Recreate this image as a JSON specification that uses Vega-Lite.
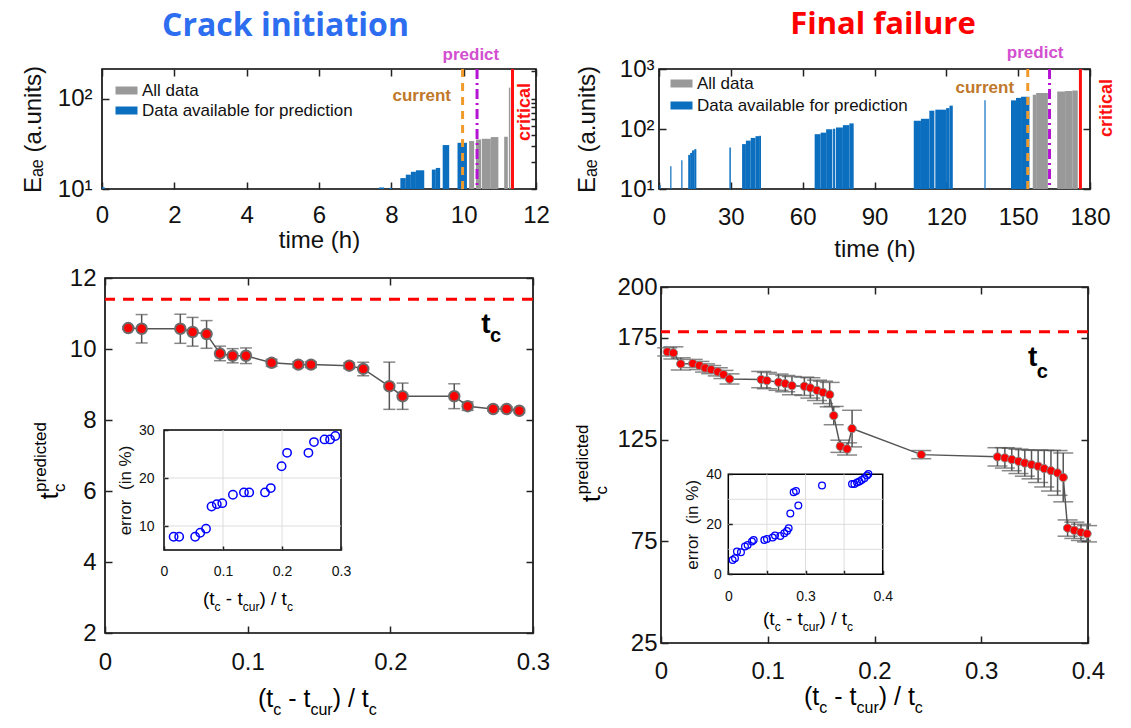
{
"$schema": "https://vega.github.io/schema/vega-lite/v6.json",
"padding": {"left": 20, "top": 9, "right": 5, "bottom": 5},
"autosize": {"type": "pad"},
"background": "white",
"config": {
  "font": "Liberation Sans",
  "view": {"stroke": "#000000", "strokeWidth": 1.6},
  "axis": {"domain": false, "grid": false, "labelFont": "Liberation Sans", "labelFontSize": 24, "labelColor": "#111111", "tickColor": "#222222", "tickSize": -7, "tickWidth": 1.5, "labelFlush": false, "labelOverlap": false, "titleFont": "Liberation Sans", "titleFontSize": 24, "titleFontWeight": "normal", "titleColor": "#111111", "format": "~r"},
  "legend": {"labelFont": "Liberation Sans", "labelFontSize": 17, "labelColor": "#111111", "labelLimit": 400},
  "text": {"font": "Liberation Sans", "color": "#000000"}
},
"datasets": {
  "tl": [
    {"t0": 0, "t1": 0.08, "v": 10.4, "s": "Data available for prediction"},
    {"t0": 7.66, "t1": 7.8, "v": 10.4, "s": "Data available for prediction"},
    {"t0": 7.95, "t1": 8.02, "v": 10.3, "s": "Data available for prediction"},
    {"t0": 8.25, "t1": 8.4, "v": 13.2, "s": "Data available for prediction"},
    {"t0": 8.4, "t1": 8.54, "v": 14.4, "s": "Data available for prediction"},
    {"t0": 8.54, "t1": 8.68, "v": 15.5, "s": "Data available for prediction"},
    {"t0": 8.68, "t1": 8.91, "v": 16.1, "s": "Data available for prediction"},
    {"t0": 9.12, "t1": 9.23, "v": 16.4, "s": "Data available for prediction"},
    {"t0": 9.23, "t1": 9.35, "v": 17.1, "s": "Data available for prediction"},
    {"t0": 9.42, "t1": 9.6, "v": 30.6, "s": "Data available for prediction"},
    {"t0": 9.83, "t1": 10.09, "v": 32.4, "s": "Data available for prediction"},
    {"t0": 10.15, "t1": 10.29, "v": 33.9, "s": "All data"},
    {"t0": 10.34, "t1": 10.48, "v": 35.3, "s": "All data"},
    {"t0": 10.5, "t1": 10.75, "v": 35.9, "s": "All data"},
    {"t0": 10.75, "t1": 10.96, "v": 37.5, "s": "All data"},
    {"t0": 11.12, "t1": 11.22, "v": 37.8, "s": "All data"},
    {"t0": 11.25, "t1": 11.29, "v": 132, "s": "All data"}
  ],
  "tr": [
    {"t0": 0.2, "t1": 0.7, "v": 11.7, "s": "Data available for prediction"},
    {"t0": 4.7, "t1": 5.2, "v": 24, "s": "Data available for prediction"},
    {"t0": 9.3, "t1": 9.8, "v": 30, "s": "Data available for prediction"},
    {"t0": 12.2, "t1": 13.0, "v": 37, "s": "Data available for prediction"},
    {"t0": 13.0, "t1": 13.8, "v": 40, "s": "Data available for prediction"},
    {"t0": 13.8, "t1": 14.7, "v": 44, "s": "Data available for prediction"},
    {"t0": 14.7, "t1": 15.6, "v": 46, "s": "Data available for prediction"},
    {"t0": 29.4, "t1": 30.0, "v": 49, "s": "Data available for prediction"},
    {"t0": 34.7, "t1": 36.3, "v": 56, "s": "Data available for prediction"},
    {"t0": 36.3, "t1": 38.3, "v": 64, "s": "Data available for prediction"},
    {"t0": 38.3, "t1": 40.3, "v": 71, "s": "Data available for prediction"},
    {"t0": 40.3, "t1": 41.8, "v": 76, "s": "Data available for prediction"},
    {"t0": 41.8, "t1": 42.6, "v": 77, "s": "Data available for prediction"},
    {"t0": 65.0, "t1": 67.5, "v": 82, "s": "Data available for prediction"},
    {"t0": 67.5, "t1": 69.8, "v": 87, "s": "Data available for prediction"},
    {"t0": 69.8, "t1": 72.4, "v": 99, "s": "Data available for prediction"},
    {"t0": 72.7, "t1": 73.6, "v": 101, "s": "Data available for prediction"},
    {"t0": 73.9, "t1": 76.8, "v": 106, "s": "Data available for prediction"},
    {"t0": 76.8, "t1": 79.5, "v": 116, "s": "Data available for prediction"},
    {"t0": 79.5, "t1": 81.3, "v": 124, "s": "Data available for prediction"},
    {"t0": 106.4, "t1": 109.4, "v": 137, "s": "Data available for prediction"},
    {"t0": 109.4, "t1": 112.9, "v": 148, "s": "Data available for prediction"},
    {"t0": 112.9, "t1": 115.0, "v": 202, "s": "Data available for prediction"},
    {"t0": 115.4, "t1": 119.9, "v": 210, "s": "Data available for prediction"},
    {"t0": 119.9, "t1": 121.3, "v": 223, "s": "Data available for prediction"},
    {"t0": 121.3, "t1": 122.7, "v": 245, "s": "Data available for prediction"},
    {"t0": 135.9, "t1": 136.4, "v": 300, "s": "Data available for prediction"},
    {"t0": 147.0, "t1": 149.1, "v": 300, "s": "Data available for prediction"},
    {"t0": 149.1, "t1": 151.2, "v": 330, "s": "Data available for prediction"},
    {"t0": 151.2, "t1": 154.7, "v": 345, "s": "Data available for prediction"},
    {"t0": 156.1, "t1": 157.5, "v": 372, "s": "All data"},
    {"t0": 157.5, "t1": 162.4, "v": 398, "s": "All data"},
    {"t0": 166.3, "t1": 169.6, "v": 420, "s": "All data"},
    {"t0": 169.6, "t1": 172.6, "v": 430, "s": "All data"},
    {"t0": 172.6, "t1": 174.9, "v": 438, "s": "All data"}
  ],
  "bl": [
    {"x": 0.0163, "p": 10.59, "lo": 10.55, "hi": 10.63},
    {"x": 0.0257, "p": 10.57, "lo": 10.17, "hi": 10.97},
    {"x": 0.0528, "p": 10.57, "lo": 10.16, "hi": 10.98},
    {"x": 0.0614, "p": 10.48, "lo": 10.08, "hi": 10.89},
    {"x": 0.0712, "p": 10.42, "lo": 10.02, "hi": 10.8},
    {"x": 0.0806, "p": 9.87, "lo": 9.67, "hi": 10.08},
    {"x": 0.0895, "p": 9.81, "lo": 9.61, "hi": 10.01},
    {"x": 0.0988, "p": 9.81, "lo": 9.59, "hi": 10.03},
    {"x": 0.1168, "p": 9.61, "lo": 9.51, "hi": 9.71},
    {"x": 0.1355, "p": 9.56, "lo": 9.48, "hi": 9.64},
    {"x": 0.1444, "p": 9.56, "lo": 9.48, "hi": 9.64},
    {"x": 0.1712, "p": 9.53, "lo": 9.45, "hi": 9.61},
    {"x": 0.181, "p": 9.44, "lo": 9.25, "hi": 9.63},
    {"x": 0.1993, "p": 8.95, "lo": 8.3, "hi": 9.63},
    {"x": 0.2086, "p": 8.67, "lo": 8.3, "hi": 9.04},
    {"x": 0.2448, "p": 8.67, "lo": 8.32, "hi": 9.02},
    {"x": 0.2542, "p": 8.39, "lo": 8.27, "hi": 8.51},
    {"x": 0.2721, "p": 8.31, "lo": 8.25, "hi": 8.37},
    {"x": 0.2815, "p": 8.31, "lo": 8.25, "hi": 8.37},
    {"x": 0.2904, "p": 8.26, "lo": 8.2, "hi": 8.32}
  ],
  "bli": [
    {"x": 0.0163, "e": 7.76}, {"x": 0.0257, "e": 7.76}, {"x": 0.0528, "e": 7.76}, {"x": 0.0614, "e": 8.6},
    {"x": 0.0712, "e": 9.44}, {"x": 0.0806, "e": 14.06}, {"x": 0.0895, "e": 14.55}, {"x": 0.0988, "e": 14.76},
    {"x": 0.1168, "e": 16.5}, {"x": 0.1355, "e": 17.0}, {"x": 0.1444, "e": 17.0}, {"x": 0.1712, "e": 17.0},
    {"x": 0.181, "e": 17.9}, {"x": 0.1993, "e": 22.45}, {"x": 0.2086, "e": 25.24}, {"x": 0.2448, "e": 25.24},
    {"x": 0.2542, "e": 27.48}, {"x": 0.2721, "e": 28.04}, {"x": 0.2815, "e": 28.04}, {"x": 0.2904, "e": 28.74}
  ],
  "br": [
    {"x": 0.0059, "p": 168.1, "lo": 166.1, "hi": 170.1},
    {"x": 0.0116, "p": 167.6, "lo": 164.6, "hi": 170.6},
    {"x": 0.0185, "p": 162.2, "lo": 159.2, "hi": 165.2},
    {"x": 0.0297, "p": 162.4, "lo": 160.4, "hi": 164.4},
    {"x": 0.036, "p": 161.4, "lo": 159.4, "hi": 163.4},
    {"x": 0.0413, "p": 160.2, "lo": 158.2, "hi": 162.2},
    {"x": 0.047, "p": 159.4, "lo": 157.4, "hi": 161.4},
    {"x": 0.0532, "p": 158.3, "lo": 156.3, "hi": 160.3},
    {"x": 0.0585, "p": 157.0, "lo": 155.0, "hi": 159.0},
    {"x": 0.0642, "p": 154.8, "lo": 152.3, "hi": 157.3},
    {"x": 0.0939, "p": 154.5, "lo": 150.5, "hi": 158.5},
    {"x": 0.0992, "p": 154.0, "lo": 150.0, "hi": 158.0},
    {"x": 0.1101, "p": 153.2, "lo": 149.2, "hi": 157.2},
    {"x": 0.1164, "p": 152.5, "lo": 148.5, "hi": 156.5},
    {"x": 0.1227, "p": 151.5, "lo": 147.0, "hi": 156.0},
    {"x": 0.1343, "p": 151.2, "lo": 146.7, "hi": 155.7},
    {"x": 0.1399, "p": 150.4, "lo": 145.4, "hi": 155.4},
    {"x": 0.1462, "p": 149.2, "lo": 144.2, "hi": 154.2},
    {"x": 0.1518, "p": 148.2, "lo": 142.7, "hi": 153.7},
    {"x": 0.158, "p": 147.1, "lo": 141.1, "hi": 153.1},
    {"x": 0.1618, "p": 136.8, "lo": 132.3, "hi": 141.3},
    {"x": 0.168, "p": 121.7, "lo": 118.7, "hi": 124.7},
    {"x": 0.1743, "p": 120.4, "lo": 117.4, "hi": 123.4},
    {"x": 0.179, "p": 130.4, "lo": 121.4, "hi": 139.4},
    {"x": 0.2438, "p": 117.6, "lo": 115.6, "hi": 119.6},
    {"x": 0.3152, "p": 116.5, "lo": 112.0, "hi": 121.0},
    {"x": 0.3221, "p": 116.0, "lo": 111.0, "hi": 121.0},
    {"x": 0.3286, "p": 115.2, "lo": 109.7, "hi": 120.7},
    {"x": 0.3349, "p": 114.3, "lo": 108.3, "hi": 120.3},
    {"x": 0.3408, "p": 113.5, "lo": 107.0, "hi": 120.0},
    {"x": 0.3471, "p": 112.7, "lo": 105.7, "hi": 119.7},
    {"x": 0.3533, "p": 111.9, "lo": 103.9, "hi": 119.9},
    {"x": 0.359, "p": 110.7, "lo": 101.7, "hi": 119.7},
    {"x": 0.3653, "p": 109.7, "lo": 99.7, "hi": 119.7},
    {"x": 0.3715, "p": 108.6, "lo": 97.6, "hi": 119.6},
    {"x": 0.3768, "p": 106.4, "lo": 94.4, "hi": 118.4},
    {"x": 0.3809, "p": 81.5, "lo": 77.5, "hi": 85.5},
    {"x": 0.3872, "p": 80.4, "lo": 76.4, "hi": 84.4},
    {"x": 0.3934, "p": 79.4, "lo": 75.4, "hi": 83.4},
    {"x": 0.3991, "p": 78.7, "lo": 74.7, "hi": 82.7}
  ],
  "bri": [
    {"x": 0.0112, "e": 5.7}, {"x": 0.0173, "e": 6.4}, {"x": 0.0225, "e": 9.1}, {"x": 0.0328, "e": 8.8},
    {"x": 0.0432, "e": 11.1}, {"x": 0.0501, "e": 11.7}, {"x": 0.0613, "e": 13.1}, {"x": 0.0657, "e": 13.7},
    {"x": 0.0933, "e": 13.7}, {"x": 0.1002, "e": 14.1}, {"x": 0.1149, "e": 14.7}, {"x": 0.121, "e": 15.5},
    {"x": 0.1348, "e": 15.3}, {"x": 0.1451, "e": 16.4}, {"x": 0.1521, "e": 17.3}, {"x": 0.1564, "e": 18.4},
    {"x": 0.1607, "e": 24.3}, {"x": 0.1693, "e": 32.8}, {"x": 0.1754, "e": 33.3}, {"x": 0.1814, "e": 27.5},
    {"x": 0.2428, "e": 35.5}, {"x": 0.3205, "e": 36.1}, {"x": 0.3266, "e": 36.1}, {"x": 0.3335, "e": 36.7},
    {"x": 0.3395, "e": 37.1}, {"x": 0.3456, "e": 37.7}, {"x": 0.3525, "e": 38.4}, {"x": 0.3594, "e": 39.5},
    {"x": 0.3629, "e": 40.1}
  ]
},
"spacing": 22,
"resolve": {"scale": {"color": "independent"}, "legend": {"color": "independent"}},
"hconcat": [
{
  "title": {"text": "Crack initiation", "font": "Open Sans", "fontSize": 32, "fontWeight": "bold", "color": "#2d6df0", "anchor": "middle", "frame": "bounds", "dx": 0, "offset": 3},
  "spacing": 89, "bounds": "flush", "center": true,
  "resolve": {"scale": {"color": "independent"}, "legend": {"color": "independent"}},
  "vconcat": [
  {
    "width": 434, "height": 120,
    "resolve": {"scale": {"x": "independent", "y": "independent"}, "axis": {"x": "independent", "y": "independent"}},
    "layer": [
    {
      "data": {"values": [{}]},
      "layer": [
        {"data": {"name": "tl"}, "mark": {"type": "rect"},
         "encoding": {
           "x": {"field": "t0", "type": "quantitative", "scale": {"domain": [0, 12], "nice": false, "zero": false}, "axis": {"values": [0, 2, 4, 6, 8, 10, 12], "title": "time (h)", "labelPadding": 21, "titlePadding": 1}},
           "x2": {"field": "t1"},
           "y": {"field": "v", "type": "quantitative", "scale": {"type": "log", "domain": [10, 212], "nice": false}, "axis": {"values": [10, 100], "labelExpr": "datum.value == 10 ? '10¹' : datum.value == 100 ? '10²' : '10³'", "title": "Eₐₑ (a.units)", "labelPadding": 17, "titlePadding": 12}},
           "y2": {"datum": 10},
           "color": {"field": "s", "type": "nominal", "scale": {"domain": ["All data", "Data available for prediction"], "range": ["#999999", "#0b6ebf"]}, "legend": {"orient": "none", "legendX": 16, "legendY": 13, "title": null, "symbolType": "M-1.375,-0.5H1.375V0.5H-1.375Z", "symbolSize": 256, "symbolStrokeWidth": 0, "labelOffset": 7, "rowPadding": 2}}
         }},
        {"mark": {"type": "rule", "color": "#ef9a2a", "strokeWidth": 3, "strokeDash": [8, 6]}, "encoding": {"x": {"datum": 9.97}}},
        {"mark": {"type": "rule", "color": "#b414d2", "strokeWidth": 3, "strokeDash": [10, 4, 2, 4]}, "encoding": {"x": {"datum": 10.37}}},
        {"mark": {"type": "rule", "color": "#ff1010", "strokeWidth": 3}, "encoding": {"x": {"datum": 11.35}}},
        {"mark": {"type": "text", "text": "current", "align": "right", "baseline": "alphabetic", "fontSize": 17, "fontWeight": "bold", "color": "#c0782a"}, "encoding": {"x": {"datum": 9.65}, "y": {"datum": 94}}},
        {"mark": {"type": "text", "text": "predict", "align": "center", "baseline": "alphabetic", "fontSize": 17, "fontWeight": "bold", "color": "#d24fd0"}, "encoding": {"x": {"datum": 10.2}, "y": {"datum": 264}}},
        {"mark": {"type": "text", "text": "critical", "angle": 270, "align": "center", "baseline": "alphabetic", "fontSize": 18, "fontWeight": "bold", "color": "#ff1010"}, "encoding": {"x": {"datum": 11.83}, "y": {"datum": 71}}}
      ]
    },
    {
      "data": {"values": [{}]},
      "mark": {"type": "point", "opacity": 0},
      "encoding": {
        "x": {"datum": 0, "type": "quantitative", "scale": {"domain": [0, 12], "nice": false, "zero": false}, "axis": {"orient": "top", "values": [0, 2, 4, 6, 8, 10, 12], "labels": false, "title": null}},
        "y": {"datum": 10, "type": "quantitative", "scale": {"type": "log", "domain": [10, 212], "nice": false}, "axis": {"orient": "right", "values": [10, 20, 30, 40, 50, 60, 70, 80, 90, 100, 200], "labels": false, "title": null, "tickSize": -5}}
      }
    }
    ]
  },
  {
    "width": 428, "height": 355,
    "resolve": {"scale": {"x": "independent", "y": "independent"}, "axis": {"x": "independent", "y": "independent"}},
    "layer": [
    {
      "data": {"values": [{}]},
      "layer": [
        {"mark": {"type": "rule", "color": "#ff0000", "strokeWidth": 3, "strokeDash": [11, 8]},
         "encoding": {"y": {"datum": 11.4, "type": "quantitative", "scale": {"domain": [2, 12], "nice": false, "zero": false}, "axis": {"values": [2, 4, 6, 8, 10, 12], "title": null, "labelPadding": 16}}}},
        {"data": {"name": "bl"}, "mark": {"type": "line", "color": "#555555", "strokeWidth": 1.5},
         "encoding": {"x": {"field": "x", "type": "quantitative", "scale": {"domain": [0, 0.3], "nice": false, "zero": false}, "axis": {"values": [0, 0.1, 0.2, 0.3], "title": null, "labelPadding": 24}}, "y": {"field": "p", "type": "quantitative"}}},
        {"data": {"name": "bl"}, "mark": {"type": "rule", "color": "#555555", "strokeWidth": 1.5},
         "encoding": {"x": {"field": "x", "type": "quantitative"}, "y": {"field": "lo", "type": "quantitative"}, "y2": {"field": "hi"}}},
        {"data": {"name": "bl"}, "mark": {"type": "tick", "orient": "horizontal", "size": 12, "thickness": 1.5, "color": "#555555"},
         "encoding": {"x": {"field": "x", "type": "quantitative"}, "y": {"field": "lo", "type": "quantitative"}}},
        {"data": {"name": "bl"}, "mark": {"type": "tick", "orient": "horizontal", "size": 12, "thickness": 1.5, "color": "#555555"},
         "encoding": {"x": {"field": "x", "type": "quantitative"}, "y": {"field": "hi", "type": "quantitative"}}},
        {"data": {"name": "bl"}, "mark": {"type": "point", "shape": "circle", "filled": true, "fill": "#ff0000", "stroke": "#6b6b6b", "strokeWidth": 2, "size": 110, "opacity": 1},
         "encoding": {"x": {"field": "x", "type": "quantitative"}, "y": {"field": "p", "type": "quantitative"}}},
        {"mark": {"type": "text", "text": "t", "fontSize": 28, "fontWeight": "bold", "align": "center", "baseline": "alphabetic"}, "encoding": {"x": {"datum": 0.267}, "y": {"datum": 10.45}}},
        {"mark": {"type": "text", "text": "c", "fontSize": 20, "fontWeight": "bold", "align": "left", "baseline": "alphabetic", "dx": 4, "dy": 9}, "encoding": {"x": {"datum": 0.267}, "y": {"datum": 10.45}}},
        {"mark": {"type": "text", "text": "t", "fontSize": 26, "angle": 270, "align": "center", "baseline": "alphabetic", "dy": -47}, "encoding": {"x": {"datum": 0}, "y": {"datum": 5.86}}},
        {"mark": {"type": "text", "text": "c", "fontSize": 17, "angle": 270, "align": "left", "baseline": "alphabetic", "dx": 4, "dy": -40}, "encoding": {"x": {"datum": 0}, "y": {"datum": 5.86}}},
        {"mark": {"type": "text", "text": "predicted", "fontSize": 17, "angle": 270, "align": "left", "baseline": "alphabetic", "dx": 4, "dy": -59}, "encoding": {"x": {"datum": 0}, "y": {"datum": 5.86}}},
        {"mark": {"type": "text", "text": "(t", "fontSize": 25, "align": "left", "baseline": "alphabetic", "dx": 0, "dy": 73.5}, "encoding": {"x": {"datum": 0.1072}, "y": {"datum": 2}}},
        {"mark": {"type": "text", "text": "c", "fontSize": 16, "align": "left", "baseline": "alphabetic", "dx": 15.3, "dy": 81.5}, "encoding": {"x": {"datum": 0.1072}, "y": {"datum": 2}}},
        {"mark": {"type": "text", "text": "-\u00a0t", "fontSize": 25, "align": "left", "baseline": "alphabetic", "dx": 30.3, "dy": 73.5}, "encoding": {"x": {"datum": 0.1072}, "y": {"datum": 2}}},
        {"mark": {"type": "text", "text": "cur", "fontSize": 16, "align": "left", "baseline": "alphabetic", "dx": 52.5, "dy": 81.5}, "encoding": {"x": {"datum": 0.1072}, "y": {"datum": 2}}},
        {"mark": {"type": "text", "text": ")\u00a0/\u00a0t", "fontSize": 25, "align": "left", "baseline": "alphabetic", "dx": 74.7, "dy": 73.5}, "encoding": {"x": {"datum": 0.1072}, "y": {"datum": 2}}},
        {"mark": {"type": "text", "text": "c", "fontSize": 16, "align": "left", "baseline": "alphabetic", "dx": 110.8, "dy": 81.5}, "encoding": {"x": {"datum": 0.1072}, "y": {"datum": 2}}}
      ]
    },
    {
      "data": {"values": [{}]},
      "mark": {"type": "point", "opacity": 0},
      "encoding": {
        "x": {"datum": 0, "type": "quantitative", "scale": {"domain": [0, 0.3], "nice": false, "zero": false}, "axis": {"orient": "top", "values": [0, 0.1, 0.2, 0.3], "labels": false, "title": null}},
        "y": {"datum": 2, "type": "quantitative", "scale": {"domain": [2, 12], "nice": false, "zero": false}, "axis": {"orient": "right", "values": [2, 4, 6, 8, 10, 12], "labels": false, "title": null}}
      }
    },
    {
      "data": {"values": [{}]},
      "layer": [
        {"mark": {"type": "rect", "fill": "white", "stroke": "#000000", "strokeWidth": 1.5},
         "encoding": {
           "x": {"datum": 0, "type": "quantitative", "scale": {"domain": [0, 0.3], "range": [59, 236], "nice": false, "zero": false}, "axis": {"orient": "bottom", "offset": -83, "values": [0, 0.1, 0.2, 0.3], "labelFontSize": 14, "tickSize": -4, "labelPadding": 18, "title": null, "zindex": 1}},
           "x2": {"datum": 0.3},
           "y": {"datum": 5, "type": "quantitative", "scale": {"domain": [5, 30], "range": [272, 152], "nice": false, "zero": false}, "axis": {"orient": "left", "offset": -59, "values": [10, 20, 30], "labelFontSize": 14, "tickSize": -4, "labelPadding": 14, "title": "error\u00a0\u00a0(in %)", "titleFontSize": 17, "titlePadding": 4, "zindex": 1}},
           "y2": {"datum": 30}
         }},
        {"data": {"values": [{"g": 0.1}, {"g": 0.2}]}, "mark": {"type": "rule", "color": "#dddddd", "strokeWidth": 1},
         "encoding": {"x": {"field": "g", "type": "quantitative"}, "y": {"datum": 5}, "y2": {"datum": 30}}},
        {"data": {"values": [{"g": 10}, {"g": 20}]}, "mark": {"type": "rule", "color": "#dddddd", "strokeWidth": 1},
         "encoding": {"y": {"field": "g", "type": "quantitative"}, "x": {"datum": 0}, "x2": {"datum": 0.3}}},
        {"data": {"name": "bli"}, "mark": {"type": "point", "shape": "circle", "filled": false, "color": "#0000ff", "strokeWidth": 1.5, "size": 70, "opacity": 1},
         "encoding": {"x": {"field": "x", "type": "quantitative"}, "y": {"field": "e", "type": "quantitative"}}},
        {"mark": {"type": "text", "text": "(t", "fontSize": 19, "align": "left", "baseline": "alphabetic", "dx": 0, "dy": 55}, "encoding": {"x": {"datum": 0.066}, "y": {"datum": 5}}},
        {"mark": {"type": "text", "text": "c", "fontSize": 12, "align": "left", "baseline": "alphabetic", "dx": 11.6, "dy": 61}, "encoding": {"x": {"datum": 0.066}, "y": {"datum": 5}}},
        {"mark": {"type": "text", "text": "-\u00a0t", "fontSize": 19, "align": "left", "baseline": "alphabetic", "dx": 22.9, "dy": 55}, "encoding": {"x": {"datum": 0.066}, "y": {"datum": 5}}},
        {"mark": {"type": "text", "text": "cur", "fontSize": 12, "align": "left", "baseline": "alphabetic", "dx": 39.8, "dy": 61}, "encoding": {"x": {"datum": 0.066}, "y": {"datum": 5}}},
        {"mark": {"type": "text", "text": ")\u00a0/\u00a0t", "fontSize": 19, "align": "left", "baseline": "alphabetic", "dx": 56.5, "dy": 55}, "encoding": {"x": {"datum": 0.066}, "y": {"datum": 5}}},
        {"mark": {"type": "text", "text": "c", "fontSize": 12, "align": "left", "baseline": "alphabetic", "dx": 84, "dy": 61}, "encoding": {"x": {"datum": 0.066}, "y": {"datum": 5}}}
      ]
    }
    ]
  }
  ]
},
{
  "title": {"text": "Final failure", "font": "Open Sans", "fontSize": 31, "fontWeight": "bold", "color": "#ff0000", "anchor": "middle", "frame": "bounds", "dx": 38, "offset": 2},
  "spacing": 98, "bounds": "flush", "center": true,
  "resolve": {"scale": {"color": "independent"}, "legend": {"color": "independent"}},
  "vconcat": [
  {
    "width": 431, "height": 120,
    "resolve": {"scale": {"x": "independent", "y": "independent"}, "axis": {"x": "independent", "y": "independent"}},
    "layer": [
    {
      "data": {"values": [{}]},
      "layer": [
        {"data": {"name": "tr"}, "mark": {"type": "rect"},
         "encoding": {
           "x": {"field": "t0", "type": "quantitative", "scale": {"domain": [0, 180], "nice": false, "zero": false}, "axis": {"values": [0, 30, 60, 90, 120, 150, 180], "title": "time (h)", "labelPadding": 23, "titlePadding": 8}},
           "x2": {"field": "t1"},
           "y": {"field": "v", "type": "quantitative", "scale": {"type": "log", "domain": [10, 1000], "nice": false}, "axis": {"values": [10, 100, 1000], "labelExpr": "datum.value == 10 ? '10¹' : datum.value == 100 ? '10²' : '10³'", "title": "Eₐₑ (a.units)", "labelPadding": 12, "titlePadding": 20}},
           "y2": {"datum": 10},
           "color": {"field": "s", "type": "nominal", "scale": {"domain": ["All data", "Data available for prediction"], "range": ["#999999", "#0b6ebf"]}, "legend": {"orient": "none", "legendX": 14, "legendY": 6, "title": null, "symbolType": "M-1.375,-0.5H1.375V0.5H-1.375Z", "symbolSize": 256, "symbolStrokeWidth": 0, "labelOffset": 7, "rowPadding": 4}}
         }},
        {"mark": {"type": "rule", "color": "#ef9a2a", "strokeWidth": 3, "strokeDash": [8, 6]}, "encoding": {"x": {"datum": 154.0}}},
        {"mark": {"type": "rule", "color": "#b414d2", "strokeWidth": 3, "strokeDash": [10, 4, 2, 4]}, "encoding": {"x": {"datum": 163.1}}},
        {"mark": {"type": "rule", "color": "#ff1010", "strokeWidth": 3}, "encoding": {"x": {"datum": 176.0}}},
        {"mark": {"type": "text", "text": "current", "align": "right", "baseline": "alphabetic", "fontSize": 17, "fontWeight": "bold", "color": "#c0782a"}, "encoding": {"x": {"datum": 148.3}, "y": {"datum": 398}}},
        {"mark": {"type": "text", "text": "predict", "align": "center", "baseline": "alphabetic", "fontSize": 17, "fontWeight": "bold", "color": "#d24fd0"}, "encoding": {"x": {"datum": 157.1}, "y": {"datum": 1525}}},
        {"mark": {"type": "text", "text": "critical", "angle": 270, "align": "center", "baseline": "alphabetic", "fontSize": 18, "fontWeight": "bold", "color": "#ff1010"}, "encoding": {"x": {"datum": 189.2}, "y": {"datum": 224}}}
      ]
    },
    {
      "data": {"values": [{}]},
      "mark": {"type": "point", "opacity": 0},
      "encoding": {
        "x": {"datum": 0, "type": "quantitative", "scale": {"domain": [0, 180], "nice": false, "zero": false}, "axis": {"orient": "top", "values": [0, 30, 60, 90, 120, 150, 180], "labels": false, "title": null}},
        "y": {"datum": 10, "type": "quantitative", "scale": {"type": "log", "domain": [10, 1000], "nice": false}, "axis": {"orient": "right", "values": [10, 100, 1000], "labels": false, "title": null}}
      }
    }
    ]
  },
  {
    "width": 427, "height": 356,
    "resolve": {"scale": {"x": "independent", "y": "independent"}, "axis": {"x": "independent", "y": "independent"}},
    "layer": [
    {
      "data": {"values": [{}]},
      "layer": [
        {"mark": {"type": "rule", "color": "#ff0000", "strokeWidth": 3, "strokeDash": [11, 8]},
         "encoding": {"y": {"datum": 178, "type": "quantitative", "scale": {"domain": [25, 200], "nice": false, "zero": false}, "axis": {"values": [25, 75, 125, 175, 200], "format": "d", "title": null, "labelPadding": 11}}}},
        {"data": {"name": "br"}, "mark": {"type": "line", "color": "#555555", "strokeWidth": 1.5},
         "encoding": {"x": {"field": "x", "type": "quantitative", "scale": {"domain": [0, 0.4], "nice": false, "zero": false}, "axis": {"values": [0, 0.1, 0.2, 0.3, 0.4], "title": null, "labelPadding": 23}}, "y": {"field": "p", "type": "quantitative"}}},
        {"data": {"name": "br"}, "mark": {"type": "rule", "color": "#555555", "strokeWidth": 1.5},
         "encoding": {"x": {"field": "x", "type": "quantitative"}, "y": {"field": "lo", "type": "quantitative"}, "y2": {"field": "hi"}}},
        {"data": {"name": "br"}, "mark": {"type": "tick", "orient": "horizontal", "size": 20, "thickness": 1.5, "color": "#555555"},
         "encoding": {"x": {"field": "x", "type": "quantitative"}, "y": {"field": "lo", "type": "quantitative"}}},
        {"data": {"name": "br"}, "mark": {"type": "tick", "orient": "horizontal", "size": 20, "thickness": 1.5, "color": "#555555"},
         "encoding": {"x": {"field": "x", "type": "quantitative"}, "y": {"field": "hi", "type": "quantitative"}}},
        {"data": {"name": "br"}, "mark": {"type": "point", "shape": "circle", "filled": true, "fill": "#ff0000", "stroke": "#888888", "strokeWidth": 1, "size": 70, "opacity": 1},
         "encoding": {"x": {"field": "x", "type": "quantitative"}, "y": {"field": "p", "type": "quantitative"}}},
        {"mark": {"type": "text", "text": "t", "fontSize": 28, "fontWeight": "bold", "align": "center", "baseline": "alphabetic"}, "encoding": {"x": {"datum": 0.3482}, "y": {"datum": 161.2}}},
        {"mark": {"type": "text", "text": "c", "fontSize": 20, "fontWeight": "bold", "align": "left", "baseline": "alphabetic", "dx": 4, "dy": 12}, "encoding": {"x": {"datum": 0.3482}, "y": {"datum": 161.2}}},
        {"mark": {"type": "text", "text": "t", "fontSize": 26, "angle": 270, "align": "center", "baseline": "alphabetic", "dy": -61}, "encoding": {"x": {"datum": 0}, "y": {"datum": 96}}},
        {"mark": {"type": "text", "text": "c", "fontSize": 17, "angle": 270, "align": "left", "baseline": "alphabetic", "dx": 4, "dy": -54}, "encoding": {"x": {"datum": 0}, "y": {"datum": 96}}},
        {"mark": {"type": "text", "text": "predicted", "fontSize": 17, "angle": 270, "align": "left", "baseline": "alphabetic", "dx": 4, "dy": -73}, "encoding": {"x": {"datum": 0}, "y": {"datum": 96}}},
        {"mark": {"type": "text", "text": "(t", "fontSize": 25, "align": "left", "baseline": "alphabetic", "dx": 0, "dy": 61.5}, "encoding": {"x": {"datum": 0.134}, "y": {"datum": 25}}},
        {"mark": {"type": "text", "text": "c", "fontSize": 16, "align": "left", "baseline": "alphabetic", "dx": 15.3, "dy": 69.5}, "encoding": {"x": {"datum": 0.134}, "y": {"datum": 25}}},
        {"mark": {"type": "text", "text": "-\u00a0t", "fontSize": 25, "align": "left", "baseline": "alphabetic", "dx": 30.3, "dy": 61.5}, "encoding": {"x": {"datum": 0.134}, "y": {"datum": 25}}},
        {"mark": {"type": "text", "text": "cur", "fontSize": 16, "align": "left", "baseline": "alphabetic", "dx": 52.5, "dy": 69.5}, "encoding": {"x": {"datum": 0.134}, "y": {"datum": 25}}},
        {"mark": {"type": "text", "text": ")\u00a0/\u00a0t", "fontSize": 25, "align": "left", "baseline": "alphabetic", "dx": 74.7, "dy": 61.5}, "encoding": {"x": {"datum": 0.134}, "y": {"datum": 25}}},
        {"mark": {"type": "text", "text": "c", "fontSize": 16, "align": "left", "baseline": "alphabetic", "dx": 110.8, "dy": 69.5}, "encoding": {"x": {"datum": 0.134}, "y": {"datum": 25}}}
      ]
    },
    {
      "data": {"values": [{}]},
      "mark": {"type": "point", "opacity": 0},
      "encoding": {
        "x": {"datum": 0, "type": "quantitative", "scale": {"domain": [0, 0.4], "nice": false, "zero": false}, "axis": {"orient": "top", "values": [0, 0.1, 0.2, 0.3, 0.4], "labels": false, "title": null}},
        "y": {"datum": 25, "type": "quantitative", "scale": {"domain": [25, 200], "nice": false, "zero": false}, "axis": {"orient": "right", "values": [25, 75, 125, 175, 200], "labels": false, "title": null}}
      }
    },
    {
      "data": {"values": [{}]},
      "layer": [
        {"mark": {"type": "rect", "fill": "white", "stroke": "#000000", "strokeWidth": 1.5},
         "encoding": {
           "x": {"datum": 0, "type": "quantitative", "scale": {"domain": [0, 0.4], "range": [67.3, 221.7], "nice": false, "zero": false}, "axis": {"orient": "bottom", "offset": -68.7, "values": [0, 0.1, 0.2, 0.3, 0.4], "labelExpr": "datum.value == 0 ? '0' : datum.value == 0.2 ? '0.3' : datum.value == 0.4 ? '0.4' : ''", "labelFontSize": 14, "tickSize": -4, "labelPadding": 19, "title": null, "zindex": 1}},
           "x2": {"datum": 0.4},
           "y": {"datum": 0, "type": "quantitative", "scale": {"domain": [0, 40], "range": [287.3, 187.3], "nice": false, "zero": false}, "axis": {"orient": "left", "offset": -67.3, "values": [0, 20, 40], "labelFontSize": 14, "tickSize": -4, "labelPadding": 11, "title": "error\u00a0\u00a0(in %)", "titleFontSize": 17, "titlePadding": 4, "zindex": 1}},
           "y2": {"datum": 40}
         }},
        {"data": {"values": [{"g": 0.1}, {"g": 0.2}, {"g": 0.3}]}, "mark": {"type": "rule", "color": "#dddddd", "strokeWidth": 1},
         "encoding": {"x": {"field": "g", "type": "quantitative"}, "y": {"datum": 0}, "y2": {"datum": 40}}},
        {"data": {"values": [{"g": 10}, {"g": 20}, {"g": 30}]}, "mark": {"type": "rule", "color": "#dddddd", "strokeWidth": 1},
         "encoding": {"y": {"field": "g", "type": "quantitative"}, "x": {"datum": 0}, "x2": {"datum": 0.4}}},
        {"data": {"name": "bri"}, "mark": {"type": "point", "shape": "circle", "filled": false, "color": "#0000ff", "strokeWidth": 1.3, "size": 45, "opacity": 1},
         "encoding": {"x": {"field": "x", "type": "quantitative"}, "y": {"field": "e", "type": "quantitative"}}},
        {"mark": {"type": "text", "text": "(t", "fontSize": 19, "align": "left", "baseline": "alphabetic", "dx": 0, "dy": 50.7}, "encoding": {"x": {"datum": 0.09}, "y": {"datum": 0}}},
        {"mark": {"type": "text", "text": "c", "fontSize": 12, "align": "left", "baseline": "alphabetic", "dx": 11.6, "dy": 56.7}, "encoding": {"x": {"datum": 0.09}, "y": {"datum": 0}}},
        {"mark": {"type": "text", "text": "-\u00a0t", "fontSize": 19, "align": "left", "baseline": "alphabetic", "dx": 22.9, "dy": 50.7}, "encoding": {"x": {"datum": 0.09}, "y": {"datum": 0}}},
        {"mark": {"type": "text", "text": "cur", "fontSize": 12, "align": "left", "baseline": "alphabetic", "dx": 39.8, "dy": 56.7}, "encoding": {"x": {"datum": 0.09}, "y": {"datum": 0}}},
        {"mark": {"type": "text", "text": ")\u00a0/\u00a0t", "fontSize": 19, "align": "left", "baseline": "alphabetic", "dx": 56.5, "dy": 50.7}, "encoding": {"x": {"datum": 0.09}, "y": {"datum": 0}}},
        {"mark": {"type": "text", "text": "c", "fontSize": 12, "align": "left", "baseline": "alphabetic", "dx": 84, "dy": 56.7}, "encoding": {"x": {"datum": 0.09}, "y": {"datum": 0}}}
      ]
    }
    ]
  }
  ]
}
]
}
